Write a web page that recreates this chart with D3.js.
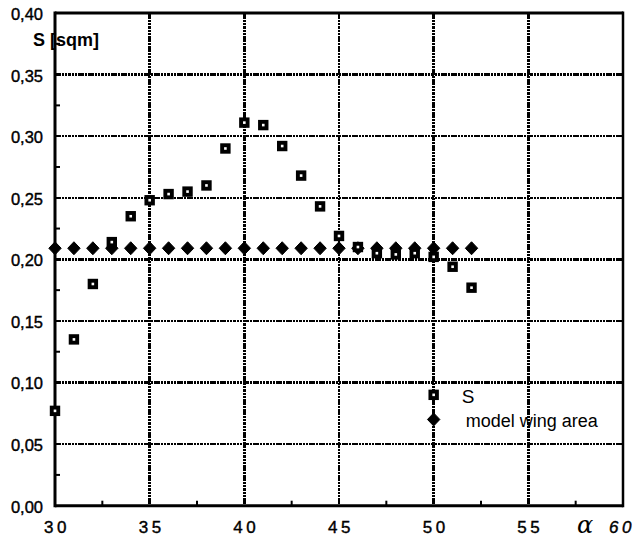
<!DOCTYPE html>
<html>
<head>
<meta charset="utf-8">
<script src="https://cdn.jsdelivr.net/npm/d3@7"></script>
<style>
  body { margin: 0; background: #fff; }
  svg { display: block; font-family: "Liberation Sans", Arial, sans-serif; }
</style>
</head>
<body>
<svg id="chart" width="643" height="538"></svg>
<script>
// Angle of attack (deg) for each measurement
const alpha = [30, 31, 32, 33, 34, 35, 36, 37, 38, 39, 40, 41, 42, 43, 44, 45, 46, 47, 48, 49, 50, 51, 52];
// Measured area S [sqm]
const sValues = [0.077, 0.135, 0.180, 0.214, 0.235, 0.248, 0.253, 0.255, 0.260, 0.290, 0.311, 0.309,
                 0.292, 0.268, 0.243, 0.219, 0.210, 0.205, 0.204, 0.205, 0.202, 0.194, 0.177];
// Model wing area (constant)
const wingArea = [0.209, 0.209, 0.209, 0.209, 0.209, 0.209, 0.209, 0.209, 0.209, 0.209, 0.209, 0.209,
                  0.209, 0.209, 0.209, 0.209, 0.209, 0.209, 0.209, 0.209, 0.209, 0.209, 0.209];
const xTicks = [30, 35, 40, 45, 50, 55, 60];
const yTicks = [0.00, 0.05, 0.10, 0.15, 0.20, 0.25, 0.30, 0.35, 0.40];
const xMinor = [32.5, 37.5, 42.5, 47.5, 52.5, 57.5];
const yMinor = [0.025, 0.075, 0.125, 0.175, 0.225, 0.275, 0.325, 0.375];
// Legend entries placed in data coordinates
const legendItems = [
  { label: "S", kind: "square", x: 50, y: 0.090 },
  { label: "model wing area", kind: "diamond", x: 50, y: 0.070 }
];

const svg = d3.select("#chart");
const x = d3.scaleLinear().domain([30, 60]).range([55, 623]);
const y = d3.scaleLinear().domain([0, 0.40]).range([505.7, 13]);
const fmt = v => d3.format(".2f")(v).replace(".", ",");

// Grid
const grid = svg.append("g").attr("stroke", "#000").attr("stroke-width", 2.4)
  .attr("stroke-dasharray", "2.5,0.8").attr("shape-rendering", "crispEdges").attr("fill", "none");
grid.selectAll("line.v").data(xTicks.slice(1, -1)).join("line")
  .attr("x1", d => x(d)).attr("x2", d => x(d)).attr("y1", y(0.40)).attr("y2", y(0));
grid.selectAll("line.h").data(yTicks.slice(1, -1)).join("line")
  .attr("x1", x(30)).attr("x2", x(60)).attr("y1", d => y(d)).attr("y2", d => y(d));

// Frame
const frame = svg.append("g").attr("stroke", "#000").attr("fill", "none");
frame.append("line").attr("x1", x(30)).attr("x2", x(60)).attr("y1", y(0.40)).attr("y2", y(0.40)).attr("stroke-width", 3);
frame.append("line").attr("x1", x(30)).attr("x2", x(60)).attr("y1", y(0)).attr("y2", y(0)).attr("stroke-width", 3);
frame.append("line").attr("x1", x(30)).attr("x2", x(30)).attr("y1", y(0.40) - 1.5).attr("y2", y(0) + 1.5).attr("stroke-width", 3);
frame.append("line").attr("x1", x(60)).attr("x2", x(60)).attr("y1", y(0.40) - 1.5).attr("y2", y(0) + 1.5).attr("stroke-width", 2.5);

// Minor ticks
frame.selectAll("line.xm").data(xMinor).join("line")
  .attr("x1", d => x(d)).attr("x2", d => x(d)).attr("y1", y(0)).attr("y2", y(0) - 5).attr("stroke-width", 2);
frame.selectAll("line.ym").data(yMinor).join("line")
  .attr("x1", x(30)).attr("x2", x(30) + 5).attr("y1", d => y(d)).attr("y2", d => y(d)).attr("stroke-width", 2);

// Tick labels
svg.append("g").selectAll("text").data(yTicks).join("text")
  .attr("x", 43).attr("y", d => y(d) + 1).attr("dy", "0.36em")
  .attr("text-anchor", "end").attr("font-size", 16.5).attr("fill", "#000")
  .attr("stroke", "#000").attr("stroke-width", 0.4)
  .text(fmt);
svg.append("g").selectAll("text").data(xTicks).join("text")
  .attr("x", d => x(d) + (d === 60 ? -1 : 2)).attr("y", 533)
  .attr("text-anchor", "middle").attr("font-size", 17).attr("letter-spacing", 3.5).attr("fill", "#000")
  .attr("stroke", "#000").attr("stroke-width", 0.4)
  .attr("font-style", d => d === 60 ? "italic" : "normal")
  .text(d => d);
svg.append("text").attr("x", 585).attr("y", 533).attr("text-anchor", "middle")
  .attr("font-size", 24).attr("font-family", "DejaVu Serif, serif").attr("font-style", "italic").text("α");
svg.append("text").attr("x", 33).attr("y", 46).attr("font-size", 18).attr("font-weight", "bold").text("S [sqm]");

// Marker painters
function square(g) {
  g.append("rect").attr("x", -5.2).attr("y", -5.2).attr("width", 10.4).attr("height", 10.4).attr("fill", "#000");
  g.append("rect").attr("x", -1.3).attr("y", -1.3).attr("width", 2.6).attr("height", 2.6).attr("fill", "#fff");
}
function diamond(g) {
  g.append("path").attr("d", "M0,-6.5L6.2,0L0,6.5L-6.2,0Z").attr("fill", "#000")
    .attr("stroke", "#000").attr("stroke-width", 1).attr("stroke-linejoin", "round");
}

// Series
svg.append("g").selectAll("g").data(alpha.map((a, i) => [a, wingArea[i]])).join("g")
  .attr("transform", d => `translate(${x(d[0])},${y(d[1])})`).each(function () { diamond(d3.select(this)); });
svg.append("g").selectAll("g").data(alpha.map((a, i) => [a, sValues[i]])).join("g")
  .attr("transform", d => `translate(${x(d[0])},${y(d[1])})`).each(function () { square(d3.select(this)); });

// Legend
const leg = svg.append("g");
legendItems.forEach(it => {
  const g = leg.append("g").attr("transform", `translate(${x(it.x)},${y(it.y)})`);
  if (it.kind === "square") square(g); else diamond(g);
  leg.append("text").attr("x", x(it.x) + (it.kind === "square" ? 28 : 32)).attr("y", y(it.y) + 1)
    .attr("dy", "0.36em").attr("font-size", it.kind === "square" ? 19 : 18).text(it.label);
});
</script>
</body>
</html>
